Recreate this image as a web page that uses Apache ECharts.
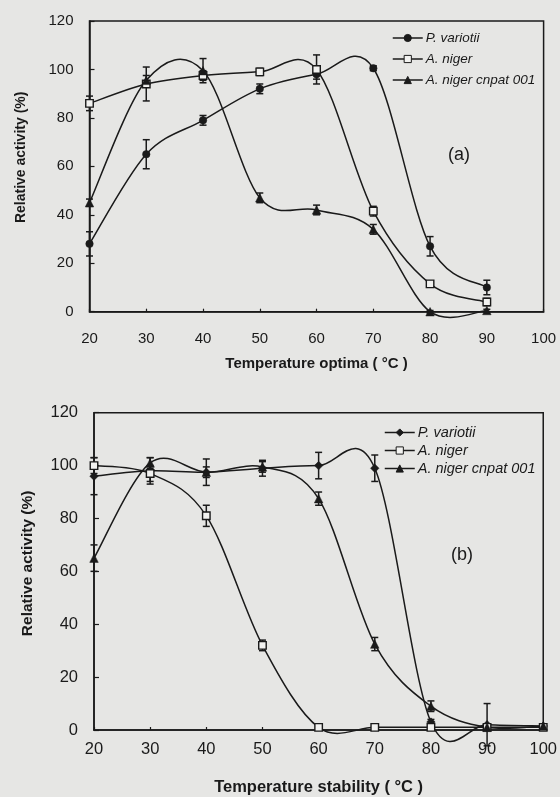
<!DOCTYPE html>
<html>
<head>
<meta charset="utf-8">
<script src="https://cdn.jsdelivr.net/npm/echarts@6/dist/echarts.min.js"></script>
<style>
  html, body { margin: 0; padding: 0; background: #e6e6e4; }
  #chart { width: 560px; height: 797px; }
</style>
</head>
<body>
<div id="chart"></div>
<script>
// panel (a) - temperature optima
const optTemp = [20, 30, 40, 50, 60, 70, 80, 90]
const optVariotii = [28, 65, 79, 92, 98, 100.5, 27, 10]
const optVariotiiErr = [5, 6, 2, 2, 2, 1, 4, 3]
const optNiger = [86, 94, 97.5, 99, 100, 41.5, 11.5, 4]
const optNigerErr = [3, 7, 2, 1.5, 6, 2, 1, 1.5]
const optCnpat = [45, 95.5, 99.5, 47, 42, 34, 0, 0.5]
const optCnpatErr = [1.5, 2, 5, 2, 2, 2, 0.5, 0.5]

// panel (b) - temperature stability
const stabTemp = [20, 30, 40, 50, 60, 70, 80, 90, 100]
const stabVariotii = [96, 98, 97.5, 99, 100, 99, 3, 2, 1.5]
const stabVariotiiErr = [7, 5, 5, 3, 5, 5, 1, 8, 0.5]
const stabNiger = [100, 97, 81, 32, 1, 1, 1, 1, 1]
const stabNigerErr = [3, 3, 4, 2, 0.5, 0.5, 0.5, 0, 0]
const stabCnpat = [65, 101, 97.5, 99.5, 87.5, 32.5, 9, 1, 1.5]
const stabCnpatErr = [5, 2, 2, 2, 2.5, 2.5, 2, 1, 0.5]

const legendNames = ['P. variotii', 'A. niger', 'A. niger cnpat 001']

const ink = '#1a1a1a'
const paper = '#e6e6e4'
const font = "'Liberation Sans', Arial, sans-serif"

// smoothed curve (catmull-rom like) + error bars, drawn through the axis scales
function curveSeries(xs, ys, errs, idx) {
  return {
    type: 'custom',
    xAxisIndex: idx,
    yAxisIndex: idx,
    z: 2,
    silent: true,
    clip: false,
    animation: false,
    data: xs.map((x, i) => [x, ys[i], errs[i]]),
    encode: { x: 0, y: 1 },
    renderItem: function (params, api) {
      let i = params.dataIndex
      let pts = xs.map((x, k) => api.coord([x, ys[k]]))
      let children = []
      let n = pts.length
      if (i < n - 1) {
        let p0 = pts[Math.max(i - 1, 0)]
        let p1 = pts[i]
        let p2 = pts[i + 1]
        let p3 = pts[Math.min(i + 2, n - 1)]
        children.push({
          type: 'bezierCurve',
          shape: {
            x1: p1[0], y1: p1[1], x2: p2[0], y2: p2[1],
            cpx1: p1[0] + (p2[0] - p0[0]) / 6,
            cpy1: p1[1] + (p2[1] - p0[1]) / 6,
            cpx2: p2[0] - (p3[0] - p1[0]) / 6,
            cpy2: p2[1] - (p3[1] - p1[1]) / 6
          },
          style: { stroke: ink, fill: 'none', lineWidth: 1.5 }
        })
      }
      let e = errs[i]
      if (e > 0) {
        let top = api.coord([xs[i], ys[i] + e])
        let bot = api.coord([xs[i], ys[i] - e])
        let cap = 3.5
        let st = { stroke: ink, lineWidth: 1.5 }
        children.push({ type: 'line', shape: { x1: top[0], y1: top[1], x2: bot[0], y2: bot[1] }, style: st })
        children.push({ type: 'line', shape: { x1: top[0] - cap, y1: top[1], x2: top[0] + cap, y2: top[1] }, style: st })
        children.push({ type: 'line', shape: { x1: bot[0] - cap, y1: bot[1], x2: bot[0] + cap, y2: bot[1] }, style: st })
      }
      return { type: 'group', children: children }
    }
  }
}

// marker-only line series (also feeds the legend)
function markerSeries(prefix, name, xs, ys, idx, symbol, size, hollow) {
  return {
    type: 'line',
    name: prefix + name,
    xAxisIndex: idx,
    yAxisIndex: idx,
    z: 3,
    silent: true,
    animation: false,
    data: xs.map((x, i) => [x, ys[i]]),
    symbol: symbol,
    symbolSize: size,
    showSymbol: true,
    lineStyle: { color: ink, width: 1.5, opacity: 0 },
    itemStyle: {
      color: hollow ? '#f2f2f0' : ink,
      borderColor: ink,
      borderWidth: hollow ? 1.4 : 0.5,
      opacity: 1
    }
  }
}

function xAxisOf(idx, name, labelSize, margin, nameGap) {
  return {
    type: 'value', gridIndex: idx, min: 20, max: 100, interval: 10,
    axisLine: { show: true, lineStyle: { color: ink, width: 1.5 } },
    axisTick: { show: true, inside: true, length: 3, lineStyle: { color: ink, width: 1.2 } },
    axisLabel: { fontSize: labelSize, color: ink, margin: margin, fontFamily: font },
    splitLine: { show: false },
    name: name, nameLocation: 'middle', nameGap: nameGap,
    nameTextStyle: { fontSize: labelSize, fontWeight: 'bold', color: ink, fontFamily: font }
  }
}

function yAxisOf(idx, labelSize, nameSize, nameGap, shift) {
  return {
    type: 'value', gridIndex: idx, min: 0, max: 120, interval: 20,
    axisLine: { show: true, lineStyle: { color: ink, width: 1.5 } },
    axisTick: { show: true, inside: true, length: 5, lineStyle: { color: ink, width: 1.2 } },
    axisLabel: { fontSize: labelSize, color: ink, margin: 16, fontFamily: font },
    splitLine: { show: false },
    name: 'Relative activity (%)', nameLocation: 'middle', nameGap: nameGap, nameRotate: 90,
    nameTextStyle: { fontSize: nameSize, fontWeight: 'bold', color: ink, fontFamily: font, padding: [0, 0, 0, shift] }
  }
}

function legendOf(prefix, left, top, size, gap) {
  return {
    orient: 'vertical', left: left, top: top, padding: 0,
    itemWidth: 30, itemHeight: 9, itemGap: gap,
    data: legendNames.map(n => prefix + n),
    formatter: n => n.slice(prefix.length),
    selectedMode: false,
    textStyle: { fontSize: size, fontStyle: 'italic', color: ink, fontFamily: font, padding: [0, 0, 0, -2] },
    lineStyle: { width: 1.5, opacity: 1, color: ink },
    itemStyle: { borderWidth: 1 }
  }
}

const chart = echarts.init(document.getElementById('chart'), null, { renderer: 'canvas' })
chart.setOption({
  backgroundColor: paper,
  animation: false,
  title: [
    { text: '(a)', left: 448, top: 146, padding: 0, textStyle: { fontSize: 18, fontWeight: 'normal', color: ink, fontFamily: font } },
    { text: '(b)', left: 451, top: 546, padding: 0, textStyle: { fontSize: 18, fontWeight: 'normal', color: ink, fontFamily: font } }
  ],
  grid: [
    { left: 89.5, right: 16.4, top: 21, height: 290.7, show: true, borderColor: ink, borderWidth: 1.5, backgroundColor: 'transparent' },
    { left: 94, right: 15.7, top: 412.7, height: 317.3, show: true, borderColor: ink, borderWidth: 1.5, backgroundColor: 'transparent' }
  ],
  xAxis: [
    xAxisOf(0, 'Temperature optima ( °C )', 15, 20, 45),
    xAxisOf(1, 'Temperature stability ( °C )', 16.5, 11, 49)
  ],
  yAxis: [
    yAxisOf(0, 15, 14, 61.5, 18),
    yAxisOf(1, 16.5, 15.5, 58.5, 16)
  ],
  legend: [
    legendOf('a|', 392, 31, 13.5, 7),
    legendOf('b|', 384, 425, 14.5, 3)
  ],
  series: [
    curveSeries(optTemp, optVariotii, optVariotiiErr, 0),
    curveSeries(optTemp, optNiger, optNigerErr, 0),
    curveSeries(optTemp, optCnpat, optCnpatErr, 0),
    markerSeries('a|', 'P. variotii', optTemp, optVariotii, 0, 'circle', 7.5, false),
    markerSeries('a|', 'A. niger', optTemp, optNiger, 0, 'rect', 7.5, true),
    markerSeries('a|', 'A. niger cnpat 001', optTemp, optCnpat, 0, 'triangle', 8.5, false),
    curveSeries(stabTemp, stabVariotii, stabVariotiiErr, 1),
    curveSeries(stabTemp, stabNiger, stabNigerErr, 1),
    curveSeries(stabTemp, stabCnpat, stabCnpatErr, 1),
    markerSeries('b|', 'P. variotii', stabTemp, stabVariotii, 1, 'diamond', 8.5, false),
    markerSeries('b|', 'A. niger', stabTemp, stabNiger, 1, 'rect', 7.5, true),
    markerSeries('b|', 'A. niger cnpat 001', stabTemp, stabCnpat, 1, 'triangle', 8.5, false)
  ]
})
</script>
</body>
</html>
